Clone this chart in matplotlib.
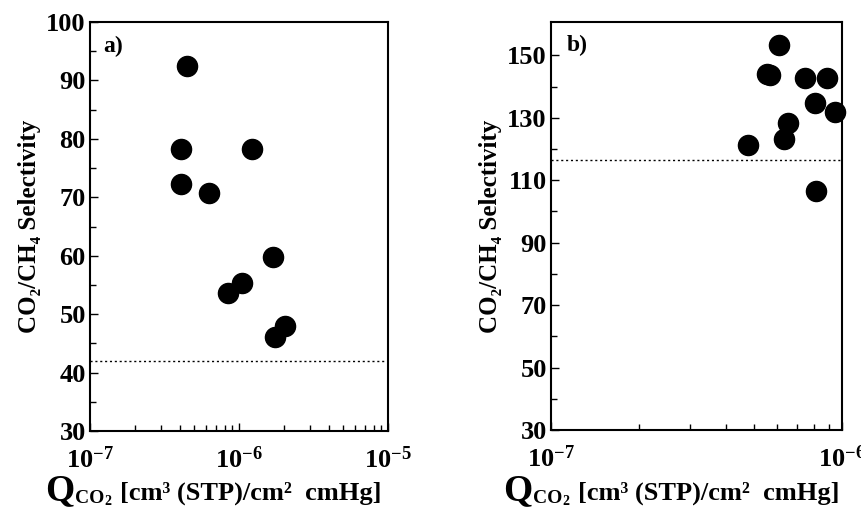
import matplotlib
matplotlib.use("Agg")
import matplotlib.pyplot as plt
from matplotlib.ticker import FixedLocator, LogLocator, NullFormatter

plt.rcParams['font.family'] = ['Liberation Serif', 'DejaVu Serif']
plt.rcParams['font.weight'] = 'bold'
plt.rcParams['mathtext.fontset'] = 'custom'
plt.rcParams['mathtext.rm'] = 'Liberation Serif:bold'
plt.rcParams['mathtext.bf'] = 'Liberation Serif:bold'
plt.rcParams['mathtext.it'] = 'Liberation Serif:bold'

# Panel a: permeance vs selectivity
qa = [4.46e-7, 4.06e-7, 4.08e-7, 6.3e-7, 1.22e-6, 1.70e-6, 1.05e-6, 8.5e-7, 2.04e-6, 1.75e-6]
sa = [92.5, 78.2, 72.3, 70.7, 78.3, 59.8, 55.3, 53.7, 48.0, 46.1]
ref_a = 42.0

# Panel b
qb = [6.09e-7, 5.52e-7, 5.65e-7, 7.48e-7, 8.88e-7, 8.10e-7, 9.43e-7, 6.50e-7, 6.34e-7, 4.75e-7, 8.14e-7]
sb = [153.4, 144.2, 143.6, 142.9, 142.9, 134.7, 132.0, 128.3, 123.3, 121.2, 106.5]
ref_b = 116.5

yticks_a = [30, 40, 50, 60, 70, 80, 90, 100]
yticks_b = [30, 50, 70, 90, 110, 130, 150]

W, H = 862, 508
fig = plt.figure(figsize=(W / 100, H / 100), dpi=100)

def make_axes(l, r, t, b):
    return fig.add_axes([l / W, 1 - b / H, (r - l) / W, (b - t) / H])

ax_a = make_axes(90, 388, 22, 431)
ax_b = make_axes(551, 842, 22, 430)

def style(ax, xlim, ylim, yticks, yminor, xticks, xlabels):
    ax.set_xscale('log')
    ax.set_xlim(*xlim)
    ax.set_ylim(*ylim)
    ax.set_yticks(yticks)
    ax.set_yticklabels([str(v) for v in yticks])
    ax.yaxis.set_minor_locator(FixedLocator(yminor))
    ax.set_xticks(xticks)
    ax.set_xticklabels(xlabels)
    ax.xaxis.set_minor_locator(LogLocator(base=10, subs=range(2, 10)))
    ax.xaxis.set_minor_formatter(NullFormatter())
    ax.tick_params(axis='both', which='both', direction='in', top=False, right=False,
                   width=1.0, colors='black')
    ax.tick_params(axis='both', which='major', length=6)
    ax.tick_params(axis='both', which='minor', length=4)
    ax.tick_params(axis='y', which='major', labelsize=19, pad=3)
    ax.tick_params(axis='x', which='major', labelsize=19, pad=11)
    for sp in ax.spines.values():
        sp.set_linewidth(1.5)
    ax.set_ylabel('CO\u2082/CH\u2084 Selectivity', fontsize=18, fontweight='bold', labelpad=4)

style(ax_a, (1e-7, 1e-5), (30, 100), yticks_a, [35, 45, 55, 65, 75, 85, 95],
      [1e-7, 1e-6, 1e-5], [r'$\mathbf{10^{-7}}$', r'$\mathbf{10^{-6}}$', r'$\mathbf{10^{-5}}$'])
style(ax_b, (1e-7, 1e-6), (30, 160.7), yticks_b, [40, 60, 80, 100, 120, 140],
      [1e-7, 1e-6], [r'$\mathbf{10^{-7}}$', r'$\mathbf{10^{-6}}$'])

ax_a.scatter(qa, sa, s=210, color='black', zorder=3, clip_on=False)
ax_b.scatter(qb, sb, s=210, color='black', zorder=3, clip_on=False)
ax_a.axhline(ref_a, color='black', lw=1.0, linestyle=(0, (1.5, 2.0)))
ax_b.axhline(ref_b, color='black', lw=1.0, linestyle=(0, (1.5, 2.0)))

ax_a.text(0.045, 0.94, 'a)', transform=ax_a.transAxes, fontsize=17, fontweight='bold', va='center')
ax_b.text(0.055, 0.943, 'b)', transform=ax_b.transAxes, fontsize=17, fontweight='bold', va='center')

renderer = fig.canvas.get_renderer()

def px_text(x_px, y_px, s, size):
    # place text by pixel position of its left end and baseline (from top-left)
    return fig.text(x_px / W, 1 - y_px / H, s, fontsize=size, fontweight='bold',
                    va='baseline', ha='left')

def xlabel(x_px, base_px):
    q = px_text(x_px, base_px, 'Q', 27)
    x = q.get_window_extent(renderer).x1 + 1
    co = px_text(x, base_px + 3, 'CO', 14)
    x = co.get_window_extent(renderer).x1
    two = px_text(x, base_px + 5, '2', 10)
    x = two.get_window_extent(renderer).x1 + 8
    px_text(x, base_px, '[cm\u00b3 (STP)/cm\u00b2  cmHg]', 19)

xlabel(45, 500)
xlabel(503, 500)

fig.savefig('out.png', dpi=100)
